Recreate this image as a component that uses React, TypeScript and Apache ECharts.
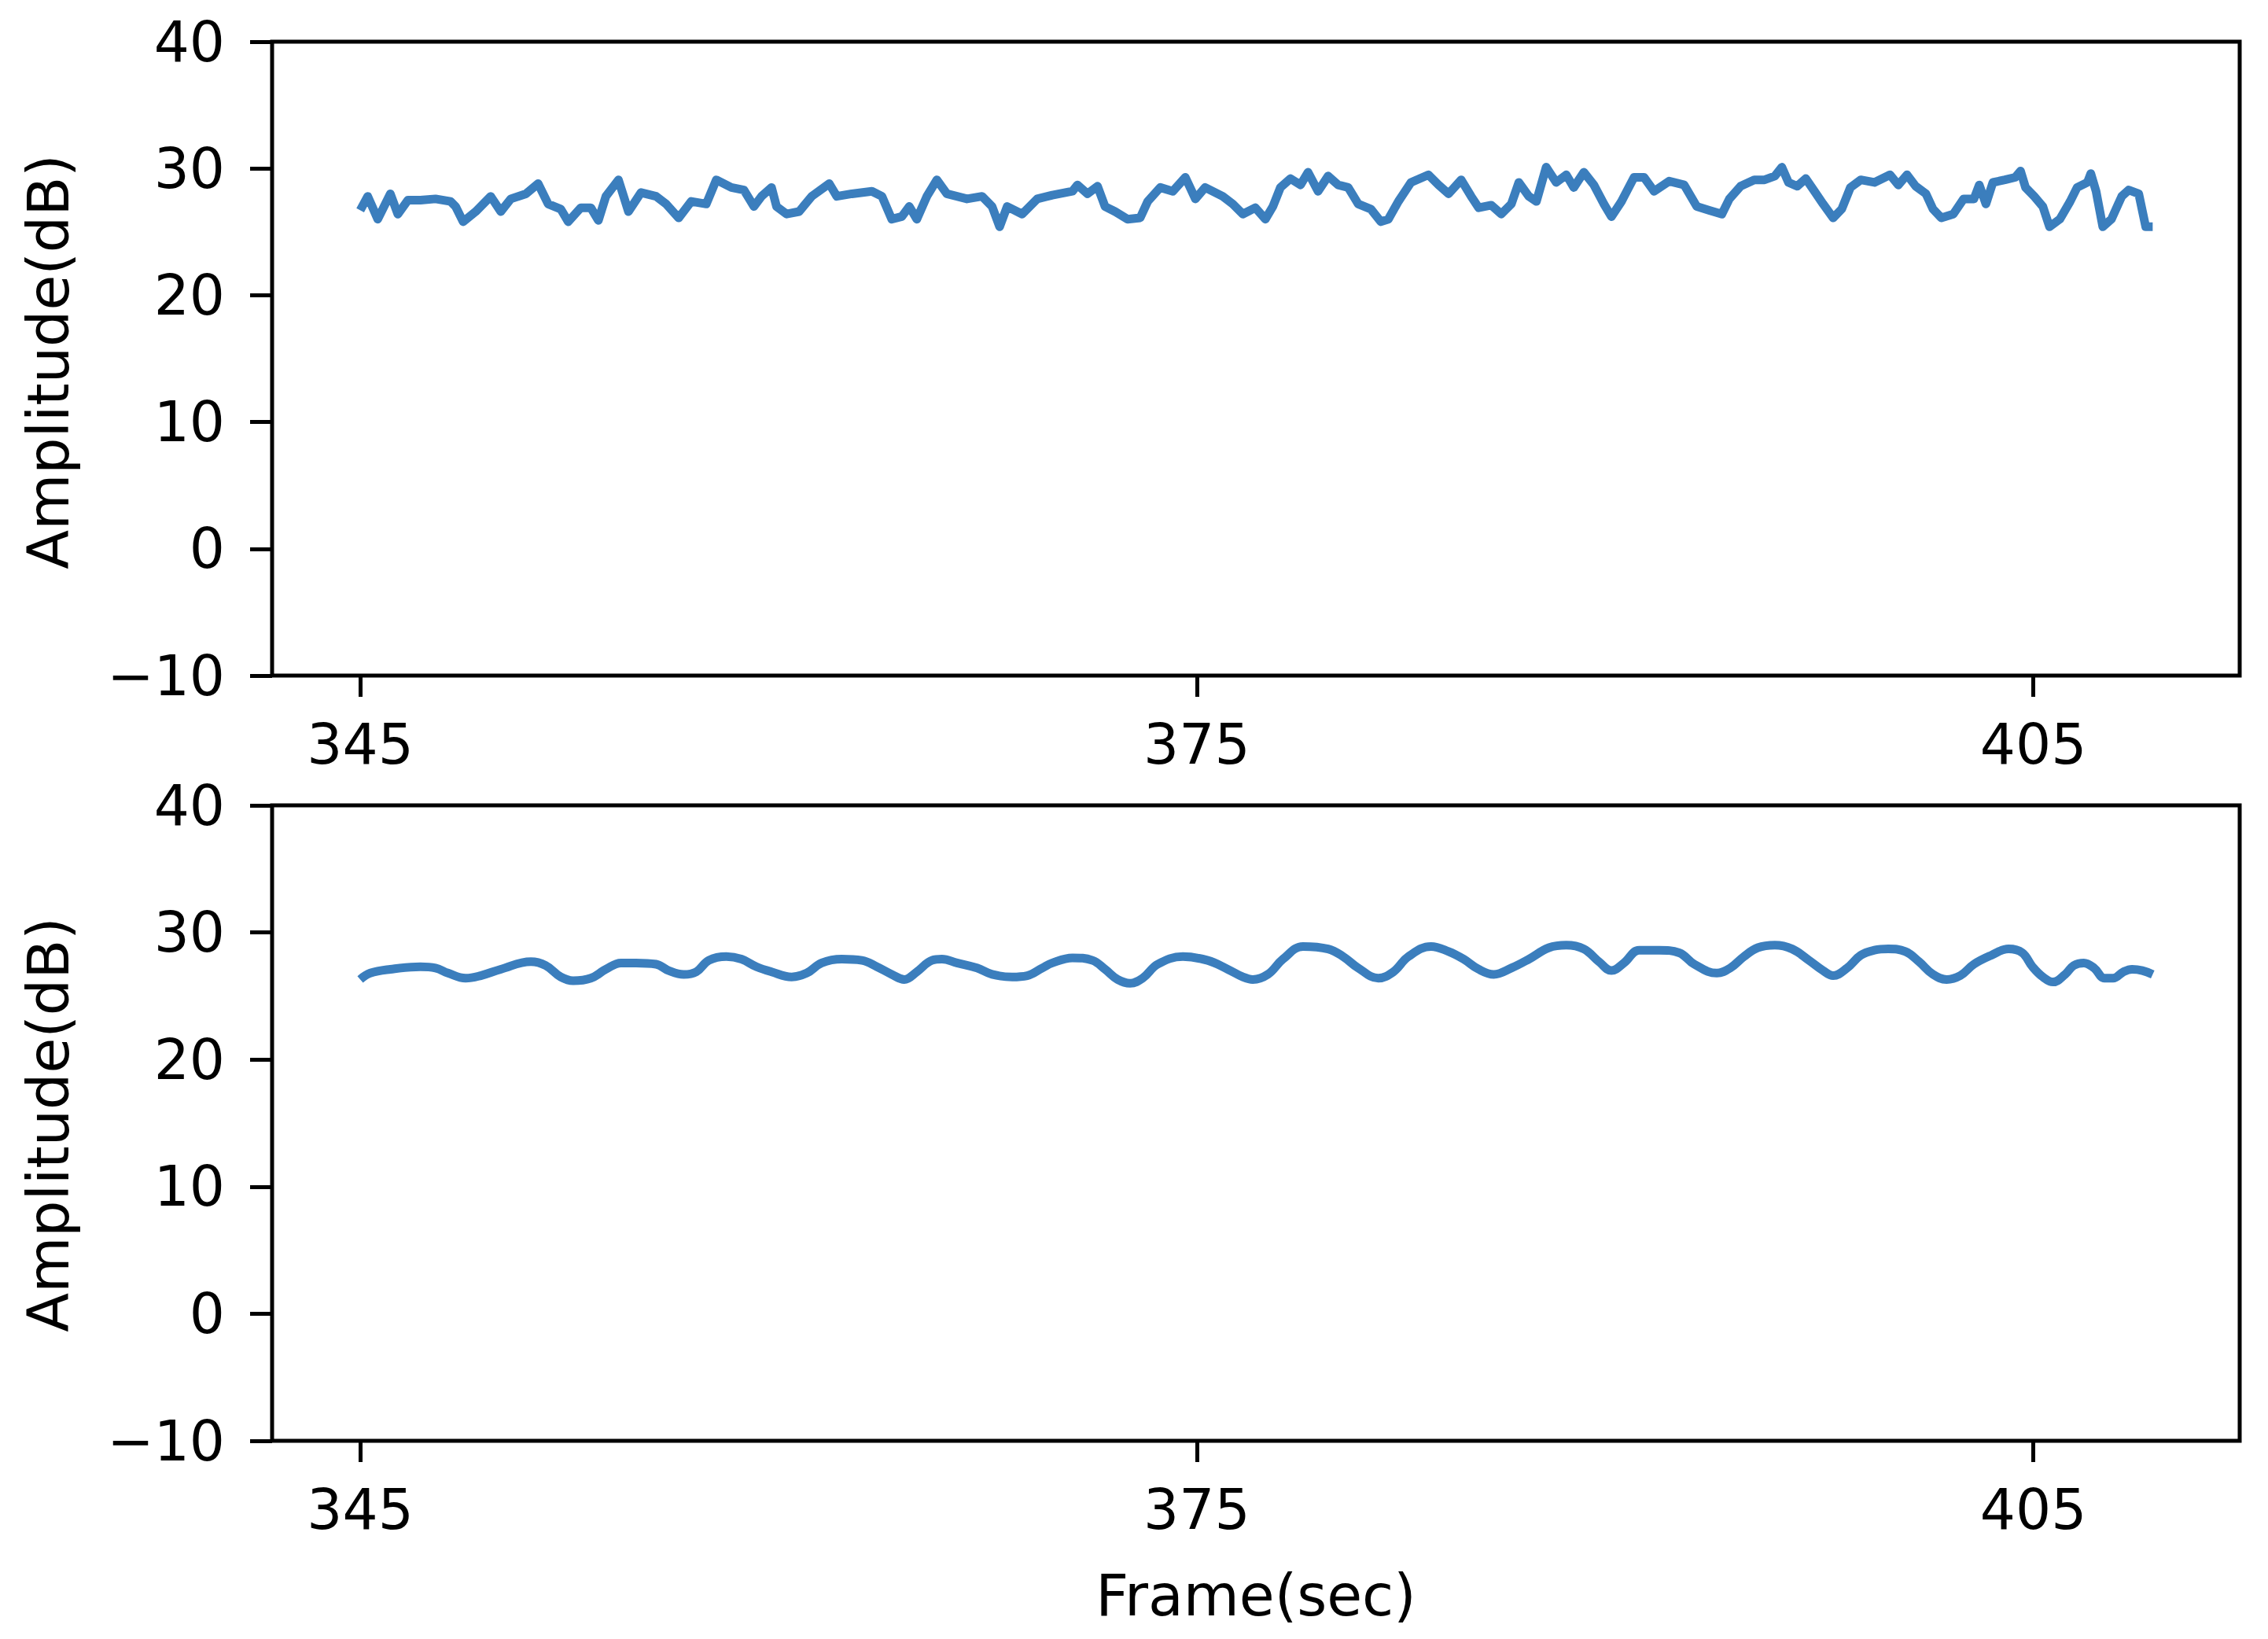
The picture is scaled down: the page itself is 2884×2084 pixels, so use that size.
import React, { useEffect, useRef } from "react";
import * as echarts from "echarts";

// ---- Data ----
const xTickValues = [345, 375, 405];
const yTickMin = -10;
const yTickMax = 40;

const topFrames = [
  345.0, 345.27, 345.63, 346.08, 346.35, 346.71, 347.16, 347.7, 348.24, 348.42, 348.69, 349.14, 349.68,
  350.04, 350.4, 350.94, 351.38, 351.74, 352.19, 352.46, 352.91, 353.27, 353.54, 353.81, 354.26, 354.62,
  355.07, 355.61, 355.97, 356.42, 356.87, 357.41, 357.77, 358.31, 358.76, 359.12, 359.39, 359.75, 359.93,
  360.29, 360.74, 361.19, 361.82, 362.09, 362.63, 363.35, 363.71, 364.06, 364.42, 364.69, 364.96, 365.32,
  365.68, 366.04, 366.76, 367.3, 367.66, 367.93, 368.2, 368.74, 369.28, 369.82, 370.54, 370.72, 371.08,
  371.44, 371.71, 372.07, 372.52, 372.97, 373.24, 373.69, 374.14, 374.59, 374.95, 375.3, 375.93, 376.29,
  376.65, 377.1, 377.46, 377.73, 378.0, 378.36, 378.72, 378.99, 379.35, 379.71, 380.07, 380.43, 380.79,
  381.24, 381.6, 381.87, 382.23, 382.68, 383.31, 383.67, 384.03, 384.48, 384.84, 385.11, 385.56, 385.92,
  386.28, 386.55, 386.91, 387.18, 387.53, 387.89, 388.25, 388.52, 388.88, 389.24, 389.6, 389.87, 390.23,
  390.68, 391.04, 391.4, 391.94, 392.48, 392.93, 393.38, 393.83, 394.1, 394.5, 394.99, 395.36, 395.73,
  395.98, 396.22, 396.53, 396.84, 397.15, 397.46, 397.82, 398.13, 398.44, 398.81, 399.3, 399.86, 400.16,
  400.47, 400.78, 401.15, 401.4, 401.7, 402.13, 402.5, 402.87, 403.06, 403.3, 403.55, 403.98, 404.35,
  404.54, 404.72, 405.03, 405.34, 405.58, 405.95, 406.32, 406.57, 406.94, 407.06, 407.25, 407.49, 407.8,
  408.17, 408.42, 408.78, 409.03, 409.28,
];
const topValues = [
  26.7, 27.8, 26.0, 28.0, 26.4, 27.5, 27.5, 27.6, 27.4, 27.0, 25.8, 26.6, 27.8,
  26.6, 27.6, 28.0, 28.8, 27.2, 26.8, 25.8, 26.9, 26.9, 25.9, 27.8, 29.1, 26.6,
  28.1, 27.8, 27.2, 26.1, 27.4, 27.2, 29.1, 28.5, 28.3, 27.0, 27.8, 28.5, 27.0,
  26.4, 26.6, 27.8, 28.8, 27.8, 28.0, 28.2, 27.8, 26.0, 26.2, 27.0, 26.0, 27.8,
  29.1, 28.0, 27.6, 27.8, 27.0, 25.4, 27.0, 26.4, 27.6, 27.9, 28.2, 28.7, 28.0,
  28.6, 27.0, 26.6, 26.0, 26.1, 27.4, 28.5, 28.2, 29.3, 27.6, 28.5, 27.8, 27.2,
  26.4, 26.9, 26.0, 27.0, 28.5, 29.2, 28.7, 29.7, 28.2, 29.4, 28.7, 28.5, 27.2,
  26.8, 25.8, 26.0, 27.4, 28.9, 29.5, 28.7, 28.0, 29.1, 27.8, 26.9, 27.1, 26.4,
  27.2, 28.9, 27.8, 27.4, 30.1, 28.9, 29.5, 28.5, 29.7, 28.7, 27.2, 26.2, 27.4,
  29.3, 29.3, 28.2, 29.0, 28.7, 27.0, 26.7, 26.4, 27.6, 28.6, 29.1, 29.1, 29.4,
  30.1, 28.9, 28.6, 29.2, 28.2, 27.2, 26.1, 26.8, 28.5, 29.1, 28.9, 29.5, 28.7,
  29.5, 28.6, 28.0, 26.8, 26.1, 26.4, 27.6, 27.6, 28.7, 27.2, 28.9, 29.1, 29.3,
  29.8, 28.5, 27.8, 27.0, 25.4, 26.0, 27.4, 28.5, 28.9, 29.6, 28.2, 25.4, 26.0,
  27.8, 28.3, 28.0, 25.4, 25.4,
];

const bottomFrames = [
  345.0, 345.36, 346.08, 347.16, 347.7, 348.15, 348.78, 349.32, 350.04, 351.12, 351.65, 352.19, 352.64,
  353.27, 353.81, 354.35, 354.89, 355.61, 356.06, 356.6, 357.05, 357.5, 358.13, 358.67, 359.21, 359.75,
  360.47, 361.01, 361.55, 362.27, 362.99, 363.53, 364.06, 364.51, 364.96, 365.5, 365.86, 366.4, 367.12,
  367.66, 368.38, 368.92, 369.46, 369.82, 370.54, 371.26, 371.71, 372.16, 372.61, 373.06, 373.6, 374.5,
  375.39, 376.11, 376.65, 377.01, 377.55, 378.09, 378.81, 379.71, 380.25, 380.79, 381.51, 382.05, 382.59,
  383.4, 384.03, 384.57, 385.11, 385.65, 386.28, 386.91, 387.63, 388.25, 388.88, 389.42, 389.87, 390.32,
  390.86, 391.58, 392.3, 392.84, 393.65, 394.13, 394.62, 395.12, 395.73, 396.35, 396.96, 397.46, 397.82,
  398.32, 398.81, 399.3, 399.8, 400.41, 400.9, 401.4, 401.89, 402.38, 402.87, 403.49, 404.11, 404.6,
  404.97, 405.34, 405.71, 406.14, 406.45, 406.81, 407.18, 407.55, 407.86, 408.23, 408.54, 408.91, 409.28,
];
const bottomValues = [
  26.3, 26.8, 27.1, 27.3, 27.2, 26.8, 26.4, 26.6, 27.1, 27.7, 27.4, 26.5, 26.2,
  26.4, 27.1, 27.6, 27.6, 27.5, 27.0, 26.7, 26.9, 27.8, 28.1, 27.9, 27.3, 26.9,
  26.5, 26.8, 27.6, 27.9, 27.8, 27.3, 26.7, 26.3, 26.9, 27.8, 27.9, 27.6, 27.2,
  26.7, 26.5, 26.6, 27.2, 27.6, 28.0, 27.8, 27.1, 26.3, 26.0, 26.4, 27.5, 28.1,
  27.8, 27.1, 26.5, 26.3, 26.7, 27.9, 28.9, 28.7, 28.1, 27.2, 26.4, 26.9, 28.1,
  28.9, 28.5, 27.9, 27.1, 26.7, 27.2, 27.9, 28.8, 29.0, 28.7, 27.7, 27.0, 27.6,
  28.6, 28.6, 28.4, 27.5, 26.8, 27.2, 28.1, 28.8, 29.0, 28.7, 27.8, 27.0, 26.6,
  27.2, 28.2, 28.6, 28.7, 28.5, 27.7, 26.7, 26.3, 26.6, 27.5, 28.2, 28.7, 28.4,
  27.3, 26.5, 26.1, 26.7, 27.4, 27.6, 27.2, 26.4, 26.4, 26.9, 27.1, 27.0, 26.7,
];

const yAxisLabel = "Amplitude(dB)";
const xAxisLabel = "Frame(sec)";

// ---- Styling ----
const FONT = "DejaVu Sans";
const FS = 71;
const NAME_FS = 73;
const LINE_COLOR = "#3b7ebd";
const X_MIN = 341.84;
const X_MAX = 412.4;

const zip = (xs: number[], ys: number[]) => xs.map((x, i) => [x, ys[i]]);

const fmtY = (v: number) => (v < 0 ? "\u2212" + Math.abs(v) : String(v));

export default function App() {
  const ref = useRef<HTMLDivElement>(null);

  useEffect(() => {
    if (!ref.current) return;
    const chart = echarts.init(ref.current, undefined, { renderer: "svg" });

    const grids = [
      { left: 346, top: 53, width: 2502, height: 806 },
      { left: 346, top: 1024, width: 2502, height: 808 },
    ];

    const option: any = {
      animation: false,
      backgroundColor: "#ffffff",
      textStyle: { fontFamily: FONT },
      grid: grids.map((g) => ({
        ...g,
        show: true,
        borderColor: "#000",
        borderWidth: 5,
        backgroundColor: "transparent",
        containLabel: false,
      })),
      xAxis: [0, 1].map((i) => ({
        type: "value",
        gridIndex: i,
        min: X_MIN,
        max: X_MAX,
        axisLine: { show: false, onZero: false },
        axisTick: {
          show: true,
          customValues: xTickValues,
          length: 27,
          lineStyle: { color: "#000", width: 5 },
        },
        axisLabel: {
          show: true,
          customValues: xTickValues,
          color: "#000",
          fontSize: FS,
          fontFamily: FONT,
          margin: 52,
        },
        splitLine: { show: false },
      })),
      yAxis: [0, 1].map((i) => ({
        type: "value",
        gridIndex: i,
        min: yTickMin,
        max: yTickMax,
        interval: 10,
        axisLine: { show: false, onZero: false },
        axisTick: {
          show: true,
          length: 28,
          lineStyle: { color: "#000", width: 5 },
        },
        axisLabel: {
          show: true,
          color: "#000",
          fontSize: FS,
          fontFamily: FONT,
          margin: 60,
          formatter: fmtY,
        },
        splitLine: { show: false },
      })),
      series: [
        {
          type: "line",
          xAxisIndex: 0,
          yAxisIndex: 0,
          data: zip(topFrames, topValues),
          symbol: "none",
          showSymbol: false,
          smooth: false,
          lineStyle: { color: LINE_COLOR, width: 11, join: "round" },
        },
        {
          type: "line",
          xAxisIndex: 1,
          yAxisIndex: 1,
          data: zip(bottomFrames, bottomValues),
          symbol: "none",
          showSymbol: false,
          smooth: 0.4,
          lineStyle: { color: LINE_COLOR, width: 11, join: "round" },
        },
      ],
      graphic: [
        {
          type: "text",
          x: 61,
          y: 460,
          rotation: Math.PI / 2,
          style: {
            text: yAxisLabel,
            fontSize: NAME_FS,
            fontFamily: FONT,
            fill: "#000",
            align: "center",
            verticalAlign: "middle",
          },
        },
        {
          type: "text",
          x: 61,
          y: 1430,
          rotation: Math.PI / 2,
          style: {
            text: yAxisLabel,
            fontSize: NAME_FS,
            fontFamily: FONT,
            fill: "#000",
            align: "center",
            verticalAlign: "middle",
          },
        },
        {
          type: "text",
          x: 1597,
          y: 2028,
          style: {
            text: xAxisLabel,
            fontSize: NAME_FS,
            fontFamily: FONT,
            fill: "#000",
            align: "center",
            verticalAlign: "middle",
          },
        },
      ],
    };

    chart.setOption(option);
    return () => chart.dispose();
  }, []);

  return (
    <div
      ref={ref}
      style={{ position: "fixed", left: 0, top: 0, width: 2884, height: 2084, background: "#fff" }}
    />
  );
}
